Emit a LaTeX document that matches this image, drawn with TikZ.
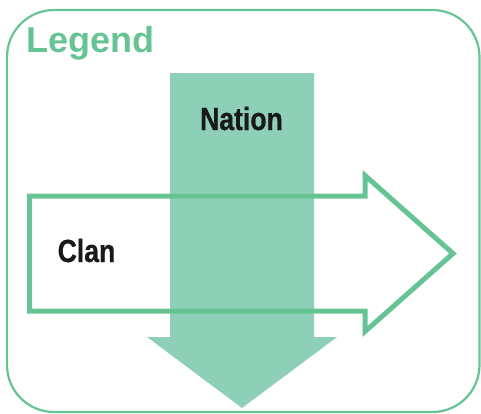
\documentclass[tikz,border=0pt]{standalone}
\usepackage{fontspec}
\setmainfont{Liberation Sans}
\newfontfamily\condfont[FakeStretch=0.83, FakeBold=0.6]{Liberation Sans}
\definecolor{legendgreen}{HTML}{66C494}
\definecolor{nationfill}{HTML}{8DD0B7}
\tikzset{
  frame/.style={draw=legendgreen, line width=2.2pt, rounded corners=47pt},
  nationarrow/.style={fill=nationfill, draw=none},
  clanarrow/.style={draw=legendgreen, line width=5pt, line join=miter},
  title/.style={text=legendgreen, font=\fontsize{36}{36}\selectfont\bfseries, inner sep=0pt},
  label/.style={text=black!90, font=\condfont\fontsize{32}{32}\selectfont\bfseries, inner sep=0pt}
}
\begin{document}
\begin{tikzpicture}[x=1pt, y=-1pt]
  \useasboundingbox (0,0) rectangle (481,413);
  % legend frame
  \draw[frame] (7,10) rectangle (479.5,412);
  \node[title, anchor=base west] (legend) at (26,52) {Legend};
  % downward nation arrow
  \fill[nationarrow] (170,73) -- (314,73) -- (314,337) -- (337,337) -- (242,408)
        -- (147,337) -- (170,337) -- cycle;
  \node[label, anchor=base] (nation) at (241.5,130) {Nation};
  % rightward clan arrow (outline only)
  \draw[clanarrow] (29.5,196) -- (365,196) -- (365,175.5) -- (453,253.5)
        -- (365,331.5) -- (365,311) -- (29.5,311) -- cycle;
  \node[label, anchor=base] (clan) at (86.5,262) {Clan};
\end{tikzpicture}
\end{document}
